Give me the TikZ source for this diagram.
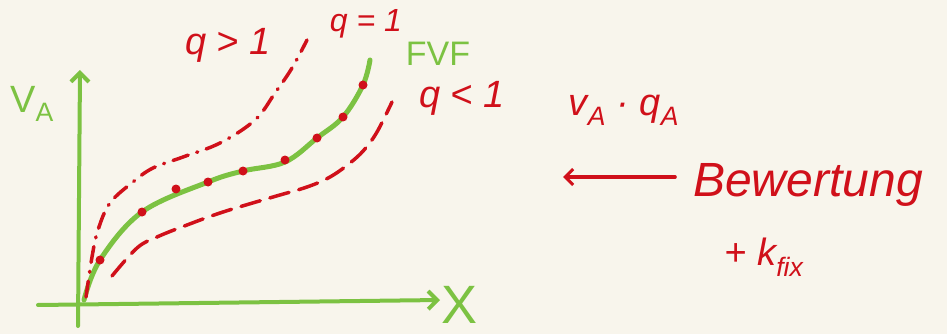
\documentclass[tikz,border=0pt]{standalone}
\usepackage{fontspec}
\setmainfont{Liberation Sans}
\usetikzlibrary{arrows.meta}
\definecolor{bg}{HTML}{F8F5EC}
\definecolor{gr}{HTML}{7CC242}
\definecolor{rd}{HTML}{D0101A}
\tikzset{
  axis/.style={draw=gr,line width=4pt,line cap=round,-{Straight Barb[length=9pt,width=18pt,line width=4pt]}},
  fvf/.style={draw=gr,line width=5pt,line cap=round},
  redline/.style={draw=rd,line width=3.5pt,line cap=round},
  redlbl/.style={text=rd,font=\itshape\fontsize{38}{38}\selectfont,inner sep=0pt},
  grlbl/.style={text=gr,font=\fontsize{38}{38}\selectfont,inner sep=0pt},
  dotr/.style={fill=rd,circle,inner sep=0pt,minimum size=9pt}
}
\begin{document}
\begin{tikzpicture}[x=1pt,y=-1pt]
\fill[bg] (0,0) rectangle (947,334);
\useasboundingbox (0,0) rectangle (947,334);
% axes
\coordinate (yb) at (78,326);
\coordinate (yt) at (80,70);
\coordinate (xl) at (38,305);
\coordinate (xr) at (440,300);
\draw[axis] (yb) -- (yt);
\draw[axis] (xl) -- (xr);
\node[grlbl,font=\fontsize{54}{54}\selectfont] (X) at (460,305) {X};
\node[grlbl] (VA) at (32,104) {V\textsubscript{A}};
% FVF curve
\draw[fvf] plot[smooth,tension=0.6] coordinates {(84,300) (100,260) (142,212) (208,182) (243,171) (285,162) (317,138) (343,117) (363,85) (370,60)};
\node[grlbl,font=\fontsize{34}{34}\selectfont] (FVF) at (438,54) {FVF};
% dots on FVF
\foreach \p in {(100,260),(142,212),(208,182),(176,189),(243,171),(285,160),(317,138),(343,117),(363,85)}
  \node[dotr] at \p {};
% q>1 curve
\draw[redline,dash pattern=on 16pt off 9pt on 1pt off 9pt] plot[smooth,tension=0.6] coordinates {(86,297) (92,257) (98,230) (110,203) (133,182) (153,168) (183,157) (220,143) (255,120) (275,93) (292,68) (307,40)};
\node[redlbl] (q1) at (228,45) {q > 1};
\node[redlbl,font=\itshape\fontsize{32}{32}\selectfont] (q2) at (366,24) {q = 1};
% q<1 curve
\draw[redline,dash pattern=on 20pt off 10pt] plot[smooth,tension=0.6] coordinates {(112,276) (137,248) (157,237) (187,225) (223,212) (273,197) (307,187) (330,177) (350,163) (364,150) (377,132) (392,102)};
\node[redlbl] (q3) at (462,98) {q < 1};
\node[redlbl] (vq) at (624,110) {v\textsubscript{A} · q\textsubscript{A}};
% arrow and notes
\node[redlbl,font=\itshape\fontsize{48}{48}\selectfont] (bew) at (808,185) {Bewertung};
\node[redlbl] (kfix) at (764,257) {+ k\textsubscript{fix}};
\coordinate (arrEnd) at (563,177);
\draw[redline,-{Straight Barb[length=8pt,width=16pt,line width=3pt]}] (bew.west) ++(-18,-8) -- (arrEnd);
\end{tikzpicture}
\end{document}
